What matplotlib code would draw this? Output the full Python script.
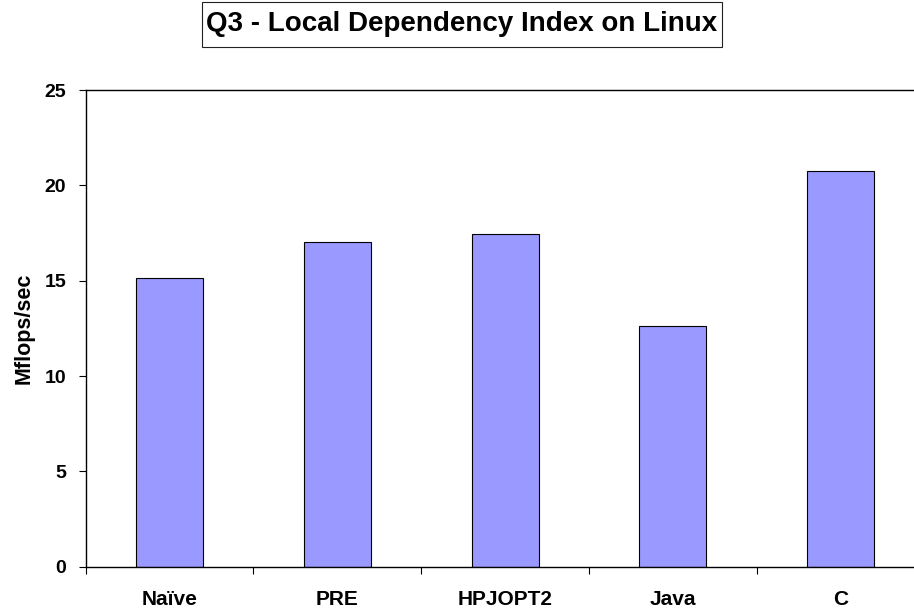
import matplotlib.pyplot as plt
from matplotlib.patches import Rectangle
import numpy as np

# Data
compilers = ["Naïve", "PRE", "HPJOPT2", "Java", "C"]
mflops = [15.12, 17.01, 17.43, 12.64, 20.75]
yticks = [0, 5, 10, 15, 20, 25]

plt.rcParams["font.family"] = ["Liberation Sans", "DejaVu Sans"]
plt.rcParams["font.weight"] = "bold"

fig = plt.figure(figsize=(9.14, 6.12), dpi=100)
# plot area runs off the right edge of the figure
ax = fig.add_axes([0.0938, 0.0740, 0.9176, 0.7789])

x = np.arange(len(compilers))
ax.bar(x, mflops, width=0.4, color="#9999FF", edgecolor="black", linewidth=0.8)

ax.set_xlim(-0.5, len(compilers) - 0.5)
ax.set_ylim(0, 25)
ax.set_yticks(yticks)
ax.set_yticklabels([str(v) for v in yticks], fontsize=14, fontweight="bold")
ax.tick_params(axis="y", direction="out", length=5, width=0.8, pad=9)

# category labels centred, tick marks on the category boundaries
ax.set_xticks(x)
ax.set_xticklabels(compilers, fontsize=15, fontweight="bold")
ax.set_xticks(np.arange(len(compilers) + 1) - 0.5, minor=True)
ax.tick_params(axis="x", which="major", length=0, pad=17)
ax.tick_params(axis="x", which="minor", direction="out", length=5, width=0.8)

for side in ["left", "bottom", "top"]:
    ax.spines[side].set_linewidth(1.0)
ax.spines["right"].set_visible(False)

ax.set_ylabel("Mflops/sec", fontsize=15.5, fontweight="bold")
ax.yaxis.set_label_coords(-0.0605, 0.5)

# boxed title
fig.patches.append(Rectangle((0.2207, 0.9237), 0.5689, 0.0730, transform=fig.transFigure,
                             facecolor="white", edgecolor="#222222", linewidth=0.8))
fig.text(0.5051, 0.9602, "Q3 - Local Dependency Index on Linux", ha="center", va="center",
         fontsize=20, fontweight="bold")

plt.savefig("out.png", dpi=100)
